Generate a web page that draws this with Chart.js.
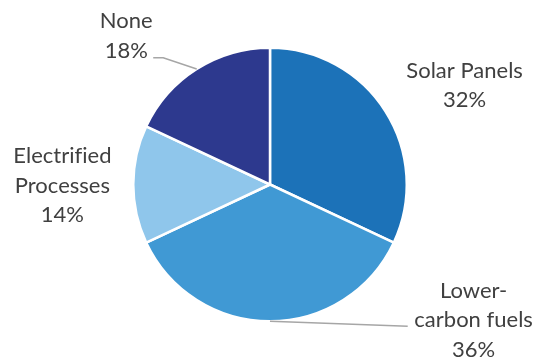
<!DOCTYPE html>
<html>
<head>
<meta charset="utf-8">
<script src="https://cdn.jsdelivr.net/npm/chart.js@4/dist/chart.umd.min.js"></script>
<style>
  html, body { margin: 0; padding: 0; background: #fff; }
  #wrap { width: 540px; height: 360px; position: relative; }
</style>
</head>
<body>
<div id="wrap"><canvas id="chart"></canvas></div>
<script>
// Categories and their shares (%)
const categories = ['Solar Panels', 'Lower-carbon fuels', 'Electrified Processes', 'None'];
const shares = [32, 36, 14, 18];
// How each category name is broken over lines in its label
const labelLines = [['Solar Panels'], ['Lower-', 'carbon fuels'], ['Electrified', 'Processes'], ['None']];
const sliceColors = ['#1c72b8', '#4099d4', '#8fc6eb', '#2d398e'];

// Label block centres and leader elbows, in units of the pie radius from its centre
const labelPlacement = [
  { dx: 1.423, dy: -0.723, leader: null },
  { dx: 1.489, dy: 0.993, leader: [[1.007, 1.036]] },
  { dx: -1.518, dy: 0.007, leader: null },
  { dx: -1.051, dy: -1.088, leader: [[-0.781, -0.927], [-0.854, -0.927]] }
];

const outsideLabels = {
  id: 'outsideLabels',
  afterDatasetsDraw(chart) {
    const ctx = chart.ctx;
    const meta = chart.getDatasetMeta(0);
    meta.data.forEach((arc, i) => {
      const { x: cx, y: cy, outerRadius: r, startAngle, endAngle } = arc.getProps(['x', 'y', 'outerRadius', 'startAngle', 'endAngle'], true);
      const mid = (startAngle + endAngle) / 2;
      const p = labelPlacement[i];
      ctx.save();
      if (p.leader) {
        ctx.strokeStyle = '#a6a6a6';
        ctx.lineWidth = 1.5;
        ctx.beginPath();
        ctx.moveTo(cx + Math.cos(mid) * r, cy + Math.sin(mid) * r);
        p.leader.forEach(([lx, ly]) => ctx.lineTo(cx + lx * r, cy + ly * r));
        ctx.stroke();
      }
      const lines = labelLines[i].concat([shares[i] + '%']);
      const lh = 29.5;
      const bx = cx + p.dx * r;
      const by = cy + p.dy * r - (lines.length - 1) * lh / 2;
      ctx.fillStyle = '#404040';
      ctx.font = '22px Lato, "Liberation Sans", sans-serif';
      // a tiny letter spacing keeps "fi" as two separate glyphs
      if ('letterSpacing' in ctx) ctx.letterSpacing = '0.01px';
      ctx.textAlign = 'center';
      ctx.textBaseline = 'middle';
      lines.forEach((t, k) => ctx.fillText(t, bx, by + k * lh));
      ctx.restore();
    });
  }
};

new Chart(document.getElementById('chart'), {
  type: 'pie',
  data: {
    labels: categories,
    datasets: [{
      data: shares,
      backgroundColor: sliceColors,
      borderColor: '#ffffff',
      borderWidth: 2.5
    }]
  },
  options: {
    responsive: true,
    maintainAspectRatio: false,
    animation: false,
    layout: { padding: { top: 46, bottom: 37, left: 132, right: 132 } },
    plugins: {
      legend: { display: false },
      tooltip: { enabled: false }
    }
  },
  plugins: [outsideLabels]
});
</script>
</body>
</html>
